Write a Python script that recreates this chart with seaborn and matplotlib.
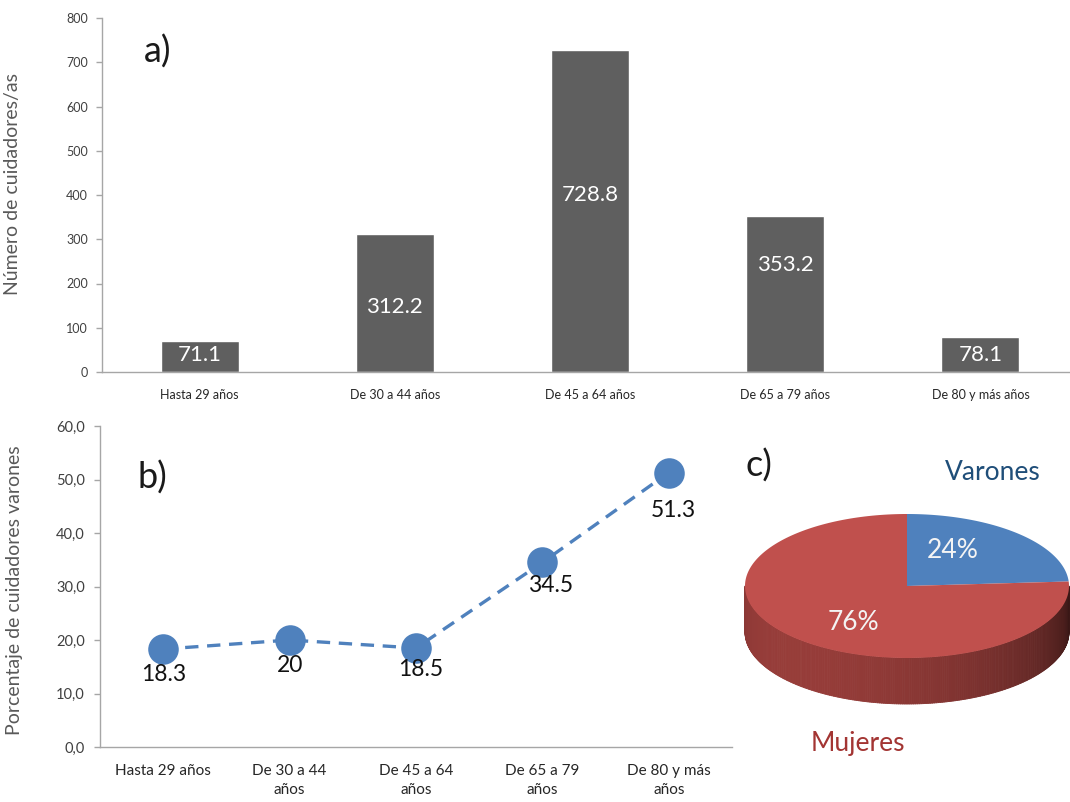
import numpy as np
import pandas as pd
import matplotlib
matplotlib.use("Agg")
import matplotlib.pyplot as plt
from matplotlib.collections import PolyCollection
from matplotlib.colors import to_rgb
import seaborn as sns

# ---- data ----
age_groups = ["Hasta 29 años", "De 30 a 44 años", "De 45 a 64 años",
              "De 65 a 79 años", "De 80 y más años"]
age_groups_wrapped = ["Hasta 29 años", "De 30 a 44\naños", "De 45 a 64\naños",
                      "De 65 a 79\naños", "De 80 y más\naños"]
carers_count = [71.1, 312.2, 728.8, 353.2, 78.1]
male_share = [18.3, 20.0, 18.5, 34.5, 51.3]
male_share_labels = ["18.3", "20", "18.5", "34.5", "51.3"]
sex_labels = ["Varones", "Mujeres"]
sex_share = [24, 76]

# ---- style ----
sns.set_style("white")
plt.rcParams["font.family"] = ["Lato", "DejaVu Sans"]

BAR_GREY = "#5f5f5f"
BLUE = "#4f81bd"
RED = "#c0504d"
AXIS_GREY = "#a6a6a6"
TEXT_GREY = "#595959"

W, H = 1070, 802
fig = plt.figure(figsize=(W / 100, H / 100), dpi=100)


def px_axes(x0, y0, x1, y1):
    """Axes placed by pixel box (top-left origin)."""
    return fig.add_axes([x0 / W, 1 - y1 / H, (x1 - x0) / W, (y1 - y0) / H])


def style_axes(ax):
    for s in ("top", "right"):
        ax.spines[s].set_visible(False)
    for s in ("left", "bottom"):
        ax.spines[s].set_color(AXIS_GREY)
        ax.spines[s].set_linewidth(1.0)
    n = len(age_groups)
    ax.set_xlim(-0.5, n - 0.5)
    ax.set_xticks(np.arange(-0.5, n, 1.0), minor=True)
    ax.tick_params(axis="x", which="major", length=0)
    ax.tick_params(axis="x", which="minor", length=5, color=AXIS_GREY, width=1)
    ax.tick_params(axis="y", which="major", length=4, color=AXIS_GREY, width=1,
                   left=True)


# ---- a) bar chart ----
ax_a = px_axes(102, 18, 1078, 372)
df_a = pd.DataFrame({"grupo": age_groups, "n": carers_count})
sns.barplot(data=df_a, x="grupo", y="n", color=BAR_GREY, saturation=1,
            width=0.4, ax=ax_a)
style_axes(ax_a)
ax_a.set_ylim(0, 800)
ax_a.set_yticks(range(0, 801, 100))
ax_a.tick_params(axis="y", labelsize=9, labelcolor="#404040", pad=6)
ax_a.tick_params(axis="x", labelsize=9, labelcolor="#262626", pad=12)
ax_a.set_xlabel("")
ax_a.set_ylabel("Número de cuidadores/as", fontsize=14, color=TEXT_GREY)
ax_a.yaxis.set_label_coords(-0.083, 0.53)

# value labels inside the bars (heights in data units)
label_heights = [38, 147, 400, 242, 38]
for i, (v, yh) in enumerate(zip(carers_count, label_heights)):
    ax_a.text(i, yh, f"{v:.1f}", ha="center", va="center", color="white",
              fontsize=16)
ax_a.text(0.043, 0.905, "a)", transform=ax_a.transAxes, fontsize=26,
          color="#1a1a1a", ha="left", va="center")

# ---- b) line chart ----
ax_b = px_axes(100, 426, 732, 747)
df_b = pd.DataFrame({"grupo": age_groups_wrapped, "pct": male_share})
sns.lineplot(data=df_b, x="grupo", y="pct", sort=False, color=BLUE,
             linewidth=2.4, marker="o", markersize=22, markeredgewidth=0,
             ax=ax_b)
ax_b.lines[0].set_linestyle((0, (4, 2.6)))
style_axes(ax_b)
ax_b.set_ylim(0, 60)
ax_b.set_yticks(range(0, 61, 10))
ax_b.set_yticklabels([f"{t},0" for t in range(0, 61, 10)])
ax_b.set_xticks(range(len(age_groups_wrapped)))
ax_b.set_xticklabels(age_groups_wrapped, ha="center", multialignment="center",
                     linespacing=1.45)
ax_b.tick_params(axis="y", labelsize=10.5, labelcolor="#404040", pad=7)
ax_b.tick_params(axis="x", labelsize=11, labelcolor="#262626", pad=12)
ax_b.set_xlabel("")
ax_b.set_ylabel("Porcentaje de cuidadores varones", fontsize=14,
                color=TEXT_GREY)
ax_b.yaxis.set_label_coords(-0.122, 0.49)

label_offsets = [(0, -25), (0, -25), (5, -21), (8, -23), (5, -38)]
for i, (v, txt, off) in enumerate(zip(male_share, male_share_labels,
                                      label_offsets)):
    ax_b.annotate(txt, (i, v), xytext=off, textcoords="offset pixels",
                  ha="center", va="center", fontsize=16.5, color="#111111")
ax_b.text(0.06, 0.84, "b)", transform=ax_b.transAxes, fontsize=26,
          color="#1a1a1a", ha="left", va="center")

# ---- c) 3-D style pie ----
ax_c = fig.add_axes([0, 0, 1, 1], zorder=5)
ax_c.set_xlim(0, W)
ax_c.set_ylim(H, 0)
ax_c.axis("off")
ax_c.patch.set_alpha(0)

cx, cy, rx, ry, depth = 907, 586, 162, 72, 46


def rim(theta):
    return cx + rx * np.cos(theta), cy - ry * np.sin(theta)


# side wall (front half of the disc), shaded left-to-right
side_base = np.array(to_rgb("#b84a46"))
n_strips = 240
th = np.linspace(np.pi, 2 * np.pi, n_strips + 1)
polys, cols = [], []
for a0, a1 in zip(th[:-1], th[1:]):
    x0, y0 = rim(a0)
    x1, y1 = rim(a1)
    polys.append([(x0, y0), (x1, y1), (x1, y1 + depth), (x0, y0 + depth)])
    t = (0.5 * (a0 + a1) - np.pi) / np.pi
    f = 0.86 - 0.55 * t ** 2.4 - 0.12 * (1 - t) ** 6
    cols.append(np.clip(side_base * f, 0, 1))
ax_c.add_collection(PolyCollection(polys, facecolors=cols, edgecolors=cols,
                                   linewidths=0.6))

# top face wedges: start at 12 o'clock and go clockwise
total = sum(sex_share)
start = np.pi / 2
wedge_colors = [BLUE, RED]
for share, col in zip(sex_share, wedge_colors):
    sweep = 2 * np.pi * share / total
    a = np.linspace(start, start - sweep, 200)
    xs, ys = rim(a)
    ax_c.fill(np.r_[cx, xs], np.r_[cy, ys], color=col, lw=0)
    start -= sweep

pct_pos = [(953, 550), (853, 622)]
for share, (tx, ty) in zip(sex_share, pct_pos):
    ax_c.text(tx, ty, f"{share}%", ha="center", va="center", fontsize=19,
              color="#f4f4f4")

ax_c.text(993, 473, sex_labels[0], ha="center", va="center", fontsize=19,
          color="#1f4e79")
ax_c.text(858, 743, sex_labels[1], ha="center", va="center", fontsize=19,
          color="#a33533")
ax_c.text(759, 466, "c)", ha="center", va="center", fontsize=26,
          color="#1a1a1a")

fig.savefig("out.png", dpi=100)
